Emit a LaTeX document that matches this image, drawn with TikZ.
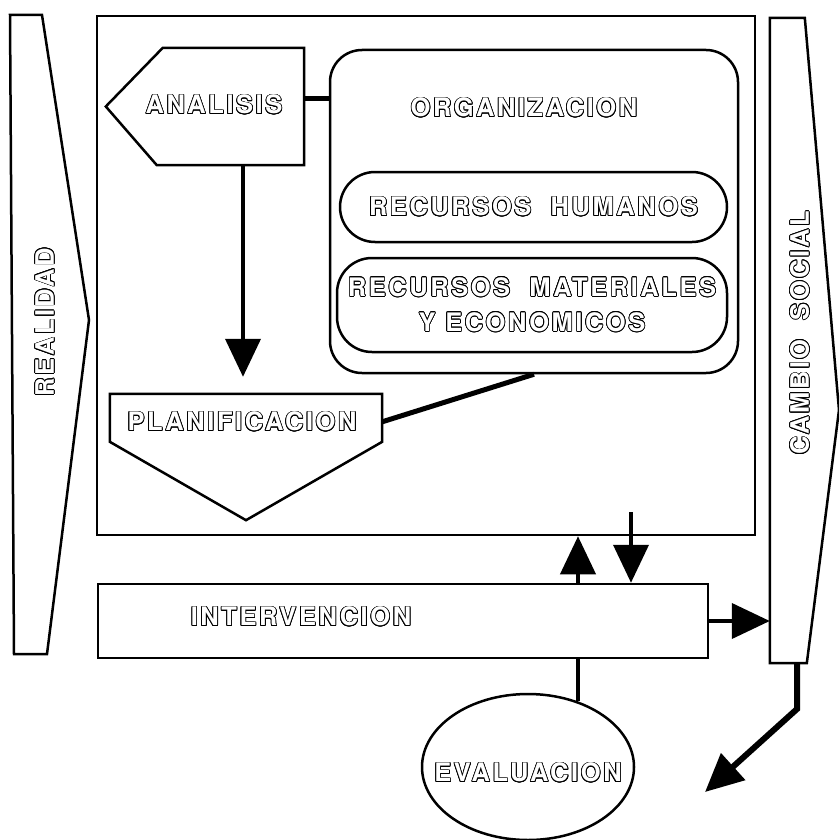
\documentclass[tikz,border=0pt]{standalone}
\usepackage{fontspec}
\newfontfamily\rotulo{TeX Gyre Heros}[LetterSpace=10]
\usepackage{contour}
\contourlength{0.8pt}
\usetikzlibrary{arrows.meta,calc,shapes.geometric}

\newcommand{\hueco}[1]{\contour{black}{#1}}

\begin{document}
\begin{tikzpicture}[x=1pt,y=-1pt,
        borde/.style = {line width=2.5pt},
        caja/.style = {draw, borde, inner sep=0pt},
        redo/.style = {caja, rounded corners=35pt},
        txt/.style = {text=white, inner sep=0pt, font=\rotulo\bfseries\fontsize{25.5}{35}\selectfont},
        flecha/.style = {line width=4pt, -{Triangle[length=38pt,width=35pt]}},
        linea/.style = {line width=5pt}]
        \useasboundingbox (0,0) rectangle (839,840);
        \clip (0,0) rectangle (839,840);

        % laterales
        \draw[borde] (10,15) -- (42,15) -- (89,320) -- (47,654) -- (14,654) -- cycle;
        \node[txt, rotate=90] (re) at (45,322) {\hueco{REALIDAD}};
        \node[minimum width=69pt, minimum height=645pt, inner sep=0pt] (cs) at (804.5,340.5) {};
        \draw[borde] (cs.north west) -- ++(35,0) -- (839,410) -- ($(cs.south west)+(37,0)$) -- (cs.south west) -- cycle;
        \node[txt, rotate=90] (cst) at (800,333) {\hueco{CAMBIO\ \ SOCIAL}};

        % marco
        \node[caja, minimum width=658pt, minimum height=519pt] (mc) at (426,275.5) {};

        % analisis
        \node[minimum width=198pt, minimum height=117pt, inner sep=0pt] (an) at (205,106.5) {};
        \draw[borde] (an.west) -- ($(an.north west)+(57,0)$) -- (an.north east) -- (an.south east) -- ($(an.south west)+(51,0)$) -- cycle;
        \node[txt] (ant) at (214,105) {\hueco{ANALISIS}};

        % organizacion
        \node[redo, rounded corners=32pt, minimum width=408pt, minimum height=323pt] (org) at (534,211.5) {};
        \node[txt] (orgt) at (524,108) {\hueco{ORGANIZACION}};
        \node[redo, txt, minimum width=387pt, minimum height=70pt] (rh) at (533.5,207) {\hueco{RECURSOS\ \ HUMANOS}};
        \node[redo, txt, minimum width=390pt, minimum height=94pt, align=center] (rm) at (532,305) {\hueco{RECURSOS\ \ MATERIALES}\\\hueco{Y ECONOMICOS}};

        % planificacion
        \node[minimum width=272pt, minimum height=126pt, inner sep=0pt] (pl) at (246,457) {};
        \draw[borde] (pl.north west) -- (pl.north east) -- ($(pl.north east)+(0,48)$) -- (pl.south) -- ($(pl.north west)+(0,48)$) -- cycle;
        \node[txt] (plt) at (242,422) {\hueco{PLANIFICACION}};

        % intervencion y evaluacion
        \node[caja, minimum width=610pt, minimum height=74pt] (int) at (403,621) {};
        \node[txt] (intt) at (301,617) {\hueco{INTERVENCION}};
        \node[caja, ellipse, minimum width=212pt, minimum height=146pt] (ev) at (528,767) {};
        \node[txt] (evt) at (528,773) {\hueco{EVALUACION}};

        \coordinate (a1) at ($(an.east)+(0,-8)$);
        \coordinate (sube) at (578,560);
        \coordinate (baja) at (631,512);
        \coordinate (csb) at (797,663);
        \coordinate (fin) at (705,792);

        \draw[linea] (a1) -- (a1 -| org.west);
        \draw[flecha] ($(an.south)+(38,0)$) -- ($(pl.north)+(-3,-17)$);
        \draw[linea] ($(pl.north east)+(0,28)$) -- (org.south);
        \draw[flecha] (sube |- int.north) -- (sube |- mc.south);
        \draw[flecha] (baja) -- (baja |- int.north);
        \draw[flecha] (int.east) -- (int.east -| cs.west);
        \draw[line width=4pt] (ev.53) -- (ev.53 |- int.south);
        \draw[flecha, line width=6pt] (csb) -- ++(0,46) -- (fin);
\end{tikzpicture}
\end{document}
